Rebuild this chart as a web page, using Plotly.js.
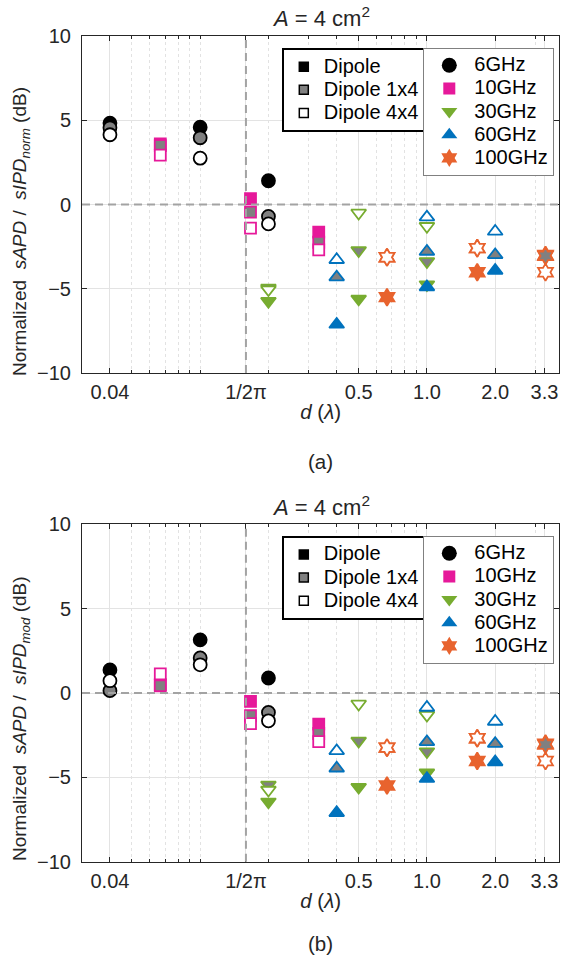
<!DOCTYPE html>
<html><head><meta charset="utf-8">
<script src="https://cdn.plot.ly/plotly-3.0.1.min.js"></script>
<style>html,body{margin:0;padding:0;background:#fff}</style>
</head><body><div id="chart" style="width:561px;height:961px"></div>
<script>
// ---------- categories ----------
const freqNames = ['6GHz', '10GHz', '30GHz', '60GHz', '100GHz'];
const antennaNames = ['Dipole', 'Dipole 1x4', 'Dipole 4x4'];

// separation distance d in wavelengths, per frequency
const d6 = [0.04, 0.1, 0.2];
const d10 = [0.0667, 0.1667, 0.3333];
const d30 = [0.2, 0.5, 1.0];
const d60 = [0.4, 1.0, 2.0];
const d100 = [0.6667, 1.6667, 3.3333];

// ---------- (a) Normalized sAPD / sIPD_norm (dB) ----------
const a6Dipole = [4.83, 4.59, 1.41];
const a6Arr14 = [4.55, 3.96, -0.71];
const a6Arr44 = [4.14, 2.75, -1.15];
const a10Dipole = [3.6, 0.34, -1.64];
const a10Arr14 = [3.5, -0.45, -2.24];
const a10Arr44 = [2.93, -1.4, -2.69];
const a30Dipole = [-5.74, -5.6, -4.75];
const a30Arr14 = [-4.95, -2.73, -3.38];
const a30Arr44 = [-5.05, -0.5, -1.29];
const a60Dipole = [-7.12, -4.9, -3.92];
const a60Arr14 = [-4.31, -2.79, -2.99];
const a60Arr44 = [-3.28, -0.75, -1.6];
const a100Dipole = [-5.5, -4.02, -3.0];
const a100Arr14 = [-3.13, -2.59, -3.05];
const a100Arr44 = [-3.13, -2.59, -4.02];

// ---------- (b) Normalized sAPD / sIPD_mod (dB) ----------
const b6Dipole = [1.37, 3.15, 0.89];
const b6Arr14 = [0.14, 2.08, -1.15];
const b6Arr44 = [0.73, 1.67, -1.65];
const b10Dipole = [0.5, -0.5, -1.85];
const b10Arr14 = [0.43, -1.35, -2.4];
const b10Arr44 = [1.13, -1.81, -2.88];
const b30Dipole = [-6.45, -5.58, -4.72];
const b30Arr14 = [-5.45, -2.84, -3.47];
const b30Arr44 = [-5.75, -0.65, -1.31];
const b60Dipole = [-7.1, -5.08, -4.09];
const b60Arr14 = [-4.46, -2.9, -3.0];
const b60Arr44 = [-3.43, -0.86, -1.69];
const b100Dipole = [-5.48, -4.03, -3.0];
const b100Arr14 = [-3.24, -2.68, -3.06];
const b100Arr44 = [-3.24, -2.68, -4.03];

// ---------- ticks ----------
const refX = 1 / (2 * Math.PI);
const xTickVals = [0.04, refX, 0.5, 1.0, 2.0, 3.3];
const xTickText = ['0.04', '1/2π', '0.5', '1.0', '2.0', '3.3'];
const xMinorVals = [0.05, 0.06, 0.07, 0.08, 0.09, 0.1, 0.2, 0.3, 0.4, 0.6, 0.7, 0.8, 0.9, 3];
const yTickVals = [-10, -5, 0, 5, 10];

// ---------- styles ----------
const FONT = 'Liberation Sans, Arial, Helvetica, sans-serif';
const TXT = '#262626';
const freqColors = ['#000000', '#E6199A', '#77AC30', '#0072BD', '#E8632E'];
const freqSymbols = ['circle', 'square', 'triangle-down', 'triangle-up', 'hexagram'];
const freqSizes = [13, 11, 13, 13, 13];
const fillFor = (ai, fi) => ai === 0 ? freqColors[fi] : (ai === 1 ? '#808080' : '#ffffff');

const dList = [d6, d10, d30, d60, d100];
const aSets = [
  [a6Dipole, a10Dipole, a30Dipole, a60Dipole, a100Dipole],
  [a6Arr14, a10Arr14, a30Arr14, a60Arr14, a100Arr14],
  [a6Arr44, a10Arr44, a30Arr44, a60Arr44, a100Arr44]
];
const bSets = [
  [b6Dipole, b10Dipole, b30Dipole, b60Dipole, b100Dipole],
  [b6Arr14, b10Arr14, b30Arr14, b60Arr14, b100Arr14],
  [b6Arr44, b10Arr44, b30Arr44, b60Arr44, b100Arr44]
];

const traces = [];
function addPanel(sets, xa, ya) {
  for (let ai = 0; ai < 3; ai++) {
    for (let fi = 0; fi < 5; fi++) {
      traces.push({
        type: 'scatter', mode: 'markers', xaxis: xa, yaxis: ya,
        x: dList[fi], y: sets[ai][fi], showlegend: false, hoverinfo: 'skip',
        name: antennaNames[ai] + ' ' + freqNames[fi],
        marker: {symbol: freqSymbols[fi], size: freqSizes[fi], color: fillFor(ai, fi),
                 line: {color: freqColors[fi], width: 1.8}}
      });
    }
  }
}
addPanel(aSets, 'x', 'y');
addPanel(bSets, 'x2', 'y2');

const antFill = ['#000000', '#808080', '#ffffff'];
const legendFreqSizes = [15, 12, 14, 14, 14];
const big = (s) => '<span style="font-size:20px">' + s + '</span>';
function addLegends(xa, ya, lgAnt, lgFreq) {
  antennaNames.forEach((n, i) => traces.push({
    type: 'scatter', mode: 'markers', xaxis: xa, yaxis: ya, x: [null], y: [null],
    legend: lgAnt, name: big(n), showlegend: true,
    marker: {symbol: 'square', size: 9, color: antFill[i], line: {color: '#000', width: 1.5}}
  }));
  freqNames.forEach((n, i) => traces.push({
    type: 'scatter', mode: 'markers', xaxis: xa, yaxis: ya, x: [null], y: [null],
    legend: lgFreq, name: big(n), showlegend: true,
    marker: {symbol: freqSymbols[i], size: legendFreqSizes[i], color: freqColors[i], line: {width: 0}}
  }));
}
addLegends('x', 'y', 'legend', 'legend2');
addLegends('x2', 'y2', 'legend3', 'legend4');

const H = 961, W = 561;
const plotL = 82, plotR = 559.3;
const aTop = 36, aBot = 373, bTop = 524.3, bBot = 861.7;

function xAxis(anchor) {
  return {
    type: 'log', range: [-1.5212, 0.5838], domain: [plotL / W, plotR / W], anchor: anchor,
    tickmode: 'array', tickvals: xTickVals, ticktext: xTickText,
    ticks: 'inside', ticklen: 5, tickwidth: 1, tickcolor: TXT,
    showline: true, linecolor: TXT, linewidth: 1, mirror: 'ticks',
    showgrid: true, gridcolor: '#e3e3e3', gridwidth: 1, zeroline: false,
    tickfont: {family: FONT, size: 20, color: TXT}, ticklabelstandoff: 1,
    title: {text: '<i>d</i> (<i>λ</i>)', font: {family: FONT, size: 20.5, color: TXT}, standoff: 2},
    automargin: false,
    minor: {tickmode: 'array', tickvals: xMinorVals, ticks: 'inside', ticklen: 3, tickcolor: TXT,
            showgrid: true, gridcolor: '#e2e2e2', griddash: 'dot', gridwidth: 1}
  };
}
function yAxis(anchor, top, bot) {
  return {
    range: [-10, 10], domain: [1 - bot / H, 1 - top / H], anchor: anchor,
    tickmode: 'array', tickvals: yTickVals,
    ticks: 'inside', ticklen: 5, tickwidth: 1, tickcolor: TXT,
    showline: true, linecolor: TXT, linewidth: 1, mirror: 'ticks',
    showgrid: true, gridcolor: '#e3e3e3', gridwidth: 1, zeroline: false,
    tickfont: {family: FONT, size: 20, color: TXT}, ticklabelstandoff: 6,
    automargin: false
  };
}

function legendCfg(xpx, ypx, border, bw, iw) {
  return {x: xpx / W, y: 1 - ypx / H, xanchor: 'left', yanchor: 'top',
          bgcolor: '#ffffff', bordercolor: border, borderwidth: bw, itemwidth: iw,
          font: {family: FONT, size: 15.5, color: '#000'}, tracegroupgap: 0, itemclick: false};
}

const dashLine = {color: '#a3a3a3', width: 2, dash: '8px,5px'};
const shapes = [
  {type: 'line', xref: 'x', yref: 'y domain', x0: refX, x1: refX, y0: 0, y1: 1, line: dashLine, layer: 'above'},
  {type: 'line', xref: 'x domain', yref: 'y', x0: 0, x1: 1, y0: 0, y1: 0, line: dashLine, layer: 'above'},
  {type: 'line', xref: 'x2', yref: 'y2 domain', x0: refX, x1: refX, y0: 0, y1: 1, line: dashLine, layer: 'above'},
  {type: 'line', xref: 'x2 domain', yref: 'y2', x0: 0, x1: 1, y0: 0, y1: 0, line: dashLine, layer: 'above'}
];

const ann = (text, xpx, ypx, size, angle) => ({
  xref: 'paper', yref: 'paper', x: xpx / W, y: 1 - ypx / H, xanchor: 'center', yanchor: 'middle',
  text: text, showarrow: false, textangle: angle || 0, font: {family: FONT, size: size, color: TXT}
});
const midX = (plotL + plotR) / 2;
const annotations = [
  ann('<i>A</i> = 4 cm<sup>2</sup>', midX, 17, 22),
  ann('<i>A</i> = 4 cm<sup>2</sup>', midX, 506, 22),
  ann('(a)', midX, 461, 20.5),
  ann('(b)', midX, 943, 20.5),
  ann('Normalized  <i>sAPD</i> /  <i>sIPD</i><sub><i>norm</i></sub> (dB)', 21, 232, 19, -90),
  ann('Normalized  <i>sAPD</i> /  <i>sIPD</i><sub><i>mod</i></sub> (dB)', 21, 719, 19, -90)
];

const layout = {
  width: W, height: H, margin: {l: 0, r: 0, t: 0, b: 0},
  paper_bgcolor: '#fff', plot_bgcolor: '#fff', showlegend: true,
  font: {family: FONT, color: TXT},
  xaxis: xAxis('y'), yaxis: yAxis('x', aTop, aBot),
  xaxis2: xAxis('y2'), yaxis2: yAxis('x2', bTop, bBot),
  legend: legendCfg(282, 48.3, '#000', 1.8, 30),
  legend2: legendCfg(423.3, 47.7, '#808080', 1, 40),
  legend3: legendCfg(282, 536, '#000', 1.8, 30),
  legend4: legendCfg(423.3, 535.7, '#808080', 1, 40),
  shapes: shapes, annotations: annotations
};

Plotly.newPlot('chart', traces, layout, {staticPlot: true, displayModeBar: false});
</script></body></html>
